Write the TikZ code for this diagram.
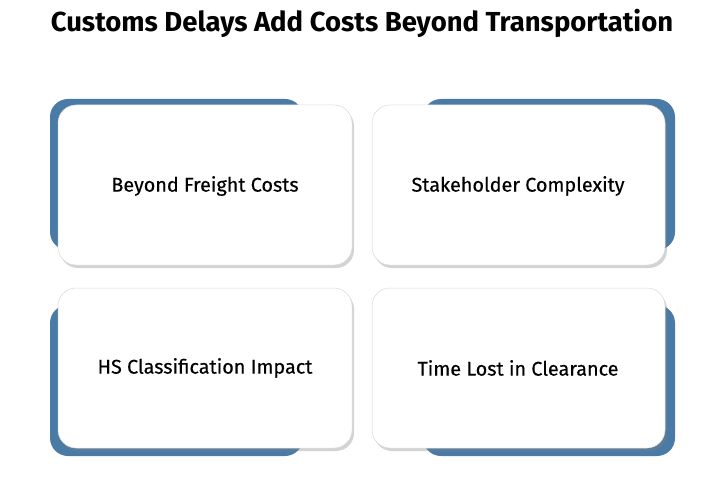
\documentclass[tikz,border=0pt]{standalone}
\usepackage{fontspec}
\setmainfont{Fira Sans}
\usetikzlibrary{shadows}
\definecolor{bl}{HTML}{4A7BA7}
\begin{document}
\begin{tikzpicture}[x=1pt,y=-1pt,
 back/.style={fill=bl,rounded corners=18pt},
 card/.style={fill=white,draw=black!15,line width=0.5pt,rounded corners=18pt,drop shadow={shadow xshift=2pt,shadow yshift=-3pt,opacity=0.35}},
 lab/.style={font=\fontsize{19.8}{22}\selectfont\addfontfeature{FakeBold=0.4},text=black}]
\useasboundingbox (0,0) rectangle (714,486);
\node[font=\bfseries\fontsize{27.5}{31}\selectfont] (title) at (362,23) {Customs Delays Add Costs Beyond Transportation};
\fill[back] (50,99) rectangle (303,250);
\fill[back] (423,99) rectangle (675,250);
\fill[back] (50,305) rectangle (303,456);
\fill[back] (423,305) rectangle (675,456);
\draw[card] (58,105) rectangle (352,265);
\draw[card] (372,105) rectangle (665,265);
\draw[card] (58,288) rectangle (352,448);
\draw[card] (372,288) rectangle (665,448);
\node[lab] (a) at (205,186) {Beyond Freight Costs};
\node[lab] (b) at (518,186) {Stakeholder Complexity};
\node[lab] (c) at (205,368) {HS Classification Impact};
\node[lab] (d) at (518,368) {Time Lost in Clearance};
\end{tikzpicture}
\end{document}
